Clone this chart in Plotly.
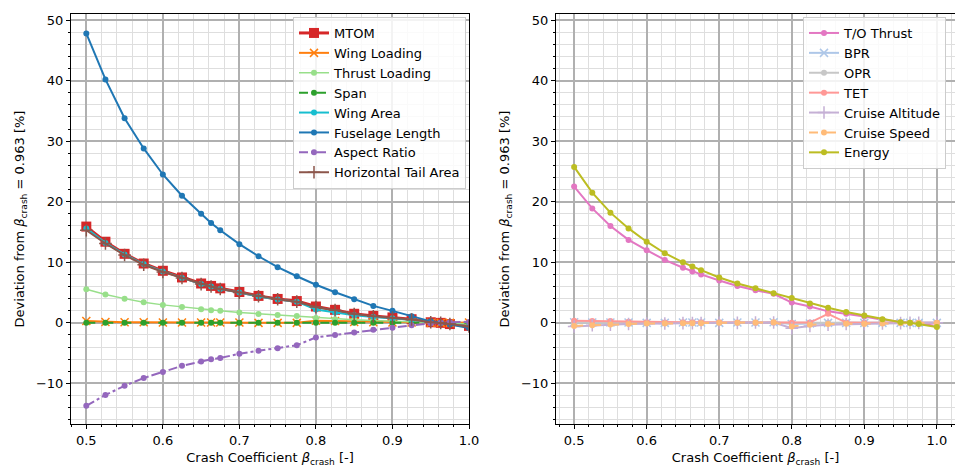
import plotly.graph_objects as go

beta = [0.5, 0.525, 0.55, 0.575, 0.6, 0.625, 0.65, 0.663, 0.675, 0.7, 0.725, 0.75,
        0.775, 0.8, 0.825, 0.85, 0.875, 0.9, 0.925, 0.95, 0.963, 0.975, 1.0]

# Left panel series (deviation in %)
mtom = [15.9, 13.4, 11.4, 9.8, 8.6, 7.5, 6.5, 6.1, 5.7, 5.1, 4.45, 3.95, 3.6, 2.7, 2.15, 1.5, 1.15, 0.9, 0.6, 0.1, 0.0, -0.2, -0.5]
wing_loading = [0.3, 0.15, 0.1, 0.1, 0.05, 0.05, 0.05, 0.05, 0.05, 0.05, 0.0, 0.0, 0.0, 0.35, 0.3, 0.15, 0.1, 0.05, 0.05, 0.0, 0.0, 0.0, 0.05]
thrust_loading = [5.55, 4.7, 4.0, 3.4, 2.97, 2.6, 2.25, 2.1, 1.98, 1.7, 1.48, 1.3, 1.15, 0.82, 0.6, 0.5, 0.4, 0.25, 0.15, 0.05, 0.0, -0.05, -0.2]
span = [0.0, 0.0, 0.0, 0.0, 0.0, 0.0, 0.0, 0.0, 0.0, 0.0, 0.0, 0.0, 0.0, 0.0, 0.0, 0.0, 0.0, 0.0, 0.0, 0.0, 0.0, 0.0, 0.0]
wing_area = [15.6, 13.2, 11.3, 9.7, 8.5, 7.4, 6.4, 6.0, 5.6, 5.0, 4.35, 3.85, 3.5, 2.2, 1.7, 1.25, 0.95, 0.75, 0.5, 0.1, 0.0, -0.2, -0.6]
fuselage_length = [47.8, 40.2, 33.8, 28.8, 24.5, 21.0, 18.0, 16.5, 15.3, 13.0, 11.0, 9.2, 7.7, 6.3, 5.05, 3.9, 2.8, 1.98, 1.1, 0.25, 0.0, -0.25, -0.85]
aspect_ratio = [-13.7, -11.9, -10.4, -9.1, -8.1, -7.1, -6.4, -6.0, -5.8, -5.1, -4.6, -4.2, -3.7, -2.4, -2.0, -1.6, -1.15, -0.8, -0.4, -0.1, 0.0, 0.1, 0.15]
htail_area = [15.3, 13.1, 11.2, 9.6, 8.4, 7.4, 6.4, 6.0, 5.6, 5.0, 4.4, 3.9, 3.5, 2.6, 2.1, 1.45, 1.1, 0.85, 0.55, 0.1, 0.0, -0.2, -0.6]

# Right panel series (deviation in %)
to_thrust = [22.5, 18.9, 16.0, 13.7, 12.0, 10.4, 9.1, 8.5, 8.0, 7.0, 6.1, 5.4, 4.8, 3.35, 2.7, 1.9, 1.5, 1.05, 0.5, 0.1, 0.0, -0.1, -0.5]
bpr = [0.1, 0.05, 0.05, 0.05, 0.0, 0.0, 0.05, 0.05, 0.05, 0.0, 0.05, 0.05, 0.1, -0.2, -0.1, 0.0, 0.0, 0.0, 0.0, 0.0, 0.0, 0.0, 0.0]
opr = [0.0, 0.0, 0.0, 0.0, 0.0, 0.0, 0.0, 0.0, 0.0, 0.0, 0.0, 0.0, 0.0, -0.1, 0.0, 0.0, 0.0, 0.0, 0.0, 0.0, 0.0, 0.0, 0.0]
tet = [0.35, 0.3, 0.3, 0.2, 0.1, 0.05, 0.1, 0.1, 0.1, 0.1, 0.05, 0.0, 0.05, 0.0, 0.05, 1.5, 0.05, 0.0, 0.0, 0.0, 0.0, 0.0, 0.0]
cruise_altitude = [-0.6, -0.4, -0.3, -0.2, -0.1, -0.1, -0.05, -0.05, -0.05, 0.0, 0.0, 0.05, 0.05, -0.9, -0.5, -0.3, -0.2, -0.2, -0.1, -0.05, 0.0, 0.0, 0.0]
cruise_speed = [-0.5, -0.4, -0.25, -0.2, -0.1, -0.1, -0.05, -0.05, -0.05, 0.0, 0.0, 0.05, 0.1, -0.6, -0.3, -0.2, -0.15, -0.2, -0.1, -0.05, 0.0, 0.0, 0.0]
energy = [25.75, 21.5, 18.2, 15.6, 13.4, 11.5, 10.0, 9.3, 8.7, 7.5, 6.5, 5.7, 4.9, 4.1, 3.2, 2.5, 1.8, 1.2, 0.6, 0.1, 0.0, -0.2, -0.7]

FONT = "DejaVu Sans"

left_specs = [
    ("MTOM", mtom, "#d62728", "square", 10, 3, "solid"),
    ("Wing Loading", wing_loading, "#ff7f0e", "x-thin-open", 8, 2, "solid"),
    ("Thrust Loading", thrust_loading, "#98df8a", "circle", 6, 1.5, "solid"),
    ("Span", span, "#2ca02c", "circle", 6, 2, "dash"),
    ("Wing Area", wing_area, "#17becf", "circle", 6, 2, "solid"),
    ("Fuselage Length", fuselage_length, "#1f77b4", "circle", 6, 2, "solid"),
    ("Aspect Ratio", aspect_ratio, "#9467bd", "circle", 6, 2, "dashdot"),
    ("Horizontal Tail Area", htail_area, "#8c564b", "cross-thin-open", 9, 2, "solid"),
]
right_specs = [
    ("T/O Thrust", to_thrust, "#e377c2", "circle", 6, 2, "solid"),
    ("BPR", bpr, "#aec7e8", "x-thin-open", 8, 2, "solid"),
    ("OPR", opr, "#c7c7c7", "circle", 6, 2, "solid"),
    ("TET", tet, "#ff9896", "circle", 6, 2, "solid"),
    ("Cruise Altitude", cruise_altitude, "#c5b0d5", "cross-thin-open", 9, 2, "solid"),
    ("Cruise Speed", cruise_speed, "#ffbb78", "circle", 6, 2, "dash"),
    ("Energy", energy, "#bcbd22", "circle", 6, 2, "solid"),
]

fig = go.Figure()

def add(specs, xa, ya, leg):
    for name, vals, col, sym, ms, lw, dash in specs:
        marker = dict(symbol=sym, size=ms, color=col)
        if "thin" in sym:
            marker["line"] = dict(color=col, width=1.5)
        fig.add_trace(go.Scatter(
            x=beta, y=vals, name=name, mode="lines+markers",
            line=dict(color=col, width=lw, dash=dash),
            marker=marker, xaxis=xa, yaxis=ya, legend=leg))

add(left_specs, "x", "y", "legend")
add(right_specs, "x2", "y2", "legend2")

W, H = 955, 467
xd1 = [71 / W, 469 / W]
xd2 = [556 / W, 1.0]
yd = [(H - 424) / H, (H - 14) / H]

def xaxis(domain, rng, anchor):
    return dict(
        domain=domain, range=rng, anchor=anchor, automargin=False,
        tickmode="linear", tick0=0.5, dtick=0.1, tickformat=".1f",
        ticks="outside", ticklen=4, tickcolor="black",
        showline=True, linecolor="black", linewidth=1, mirror=True,
        showgrid=True, gridcolor="#b0b0b0", gridwidth=1.5,
        minor=dict(dtick=0.02, tick0=0.48, showgrid=True, gridcolor="#dedede", gridwidth=1,
                   ticks="outside", ticklen=2, tickcolor="black"),
        zeroline=False,
        title=dict(text="Crash Coefficient <i>β</i><sub>crash</sub> [-]",
                   font=dict(family=FONT, size=13, color="black"), standoff=6),
        tickfont=dict(family=FONT, size=13, color="black"),
    )

def yaxis(anchor):
    return dict(
        domain=yd, range=[-16.7, 51.0], anchor=anchor, automargin=False,
        tickmode="linear", tick0=0, dtick=10,
        ticks="outside", ticklen=4, tickcolor="black",
        showline=True, linecolor="black", linewidth=1, mirror=True,
        showgrid=True, gridcolor="#b0b0b0", gridwidth=1.5,
        minor=dict(dtick=2, tick0=0, showgrid=True, gridcolor="#dedede", gridwidth=1,
                   ticks="outside", ticklen=2, tickcolor="black"),
        zeroline=False,
        title=dict(text="Deviation from <i>β</i><sub>crash</sub> = 0.963 [%]",
                   font=dict(family=FONT, size=13, color="black"), standoff=8),
        tickfont=dict(family=FONT, size=13, color="black"),
    )

legend_common = dict(
    bgcolor="rgba(255,255,255,0.85)", bordercolor="#cccccc", borderwidth=1,
    font=dict(family=FONT, size=13, color="black"),
    xanchor="right", yanchor="top", itemwidth=30,
    tracegroupgap=0, traceorder="normal",
)

fig.update_layout(
    width=W, height=H,
    margin=dict(l=0, r=0, t=0, b=0, autoexpand=False),
    paper_bgcolor="white", plot_bgcolor="white",
    font=dict(family=FONT, size=13, color="black"),
    xaxis=xaxis(xd1, [0.48, 1.0], "y"),
    yaxis=yaxis("x"),
    xaxis2=xaxis(xd2, [0.475, 1.025], "y2"),
    yaxis2=yaxis("x2"),
    legend=dict(x=466 / W, y=(H - 17) / H, **legend_common),
    legend2=dict(x=946 / W, y=(H - 17) / H, **legend_common),
    showlegend=True,
)

fig.write_html("out.html")
